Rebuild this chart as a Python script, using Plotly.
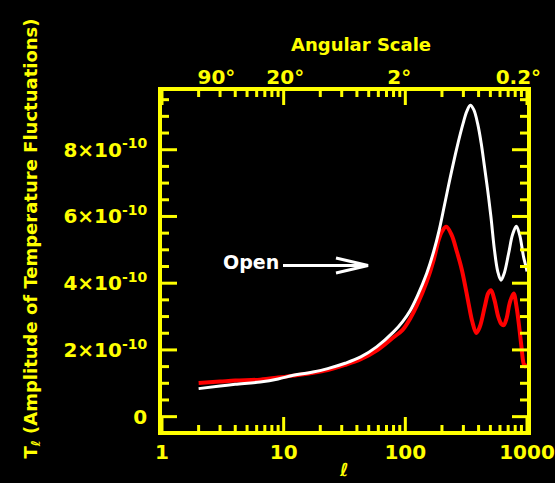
import numpy as np
import plotly.graph_objects as go

# Multipole moment l and amplitude of temperature fluctuations (units of 1e-10)
ell_flat = [2, 3, 4, 6.4, 9, 12, 17, 23, 32, 43, 58, 80, 95, 110, 125, 150, 171,
            190, 210, 235, 265, 298, 320, 342, 365, 393, 420, 445, 475, 505,
            540, 575, 611, 650, 706, 760, 817, 870, 937, 980, 1000]
amp_flat = [0.84, 0.92, 0.97, 1.04, 1.13, 1.24, 1.33, 1.44, 1.60, 1.79, 2.09,
            2.54, 2.85, 3.19, 3.60, 4.30, 4.95, 5.60, 6.35, 7.20, 8.05, 8.78,
            9.15, 9.33, 9.20, 8.78, 8.20, 7.55, 6.79, 6.00, 5.00, 4.35, 4.09,
            4.30, 4.89, 5.45, 5.71, 5.45, 4.79, 4.50, 4.35]

ell_open = [2, 3, 4, 6.4, 9, 12, 17, 23, 32, 43, 58, 80, 95, 110, 125, 150, 171,
            188, 200, 217, 240, 265, 292, 331, 355, 383, 410, 450, 480, 506,
            540, 580, 615, 643, 680, 720, 776, 820, 869, 900, 938, 965, 1000]
amp_open = [1.01, 1.05, 1.08, 1.11, 1.17, 1.23, 1.31, 1.40, 1.55, 1.72, 1.98,
            2.38, 2.60, 2.95, 3.35, 4.05, 4.70, 5.30, 5.55, 5.69, 5.45, 4.95,
            4.39, 3.39, 2.85, 2.51, 2.70, 3.30, 3.70, 3.79, 3.50, 3.00, 2.78,
            2.74, 2.95, 3.40, 3.69, 3.30, 2.59, 2.10, 1.59, 1.50, 1.58]

# Axis ticks
ell_ticks = [1, 10, 100, 1000]
ell_tick_labels = ["1", "10", "100", "1000"]
amp_ticks = [0, 2, 4, 6, 8]
amp_tick_labels = ["0", "2×10<sup>-10</sup>", "4×10<sup>-10</sup>",
                   "6×10<sup>-10</sup>", "8×10<sup>-10</sup>"]
angle_labels = ["90°", "20°", "2°", "0.2°"]
angle_ell = [2.8, 10.3, 89, 850]

SCALE = 1e-10
YEL = "#ffff00"
FONT = "DejaVu Sans"

W, H = 555, 483
L, R, T, B = 162, 527, 91, 431
X_LOG_RANGE = [0, 3]
Y_RANGE = [-0.43, 9.76]   # in units of 1e-10


def px(x):
    return (x - L) / (R - L)


def py(y):
    return (B - y) / (B - T)


fig = go.Figure()
fig.add_trace(go.Scatter(x=ell_open, y=np.array(amp_open) * SCALE, mode="lines",
                         line=dict(color="#ff0000", width=4, shape="spline"),
                         showlegend=False, hoverinfo="skip"))
fig.add_trace(go.Scatter(x=ell_flat, y=np.array(amp_flat) * SCALE, mode="lines",
                         line=dict(color="#ffffff", width=3, shape="spline"),
                         showlegend=False, hoverinfo="skip"))
# invisible trace to activate the top (angular scale) axis
fig.add_trace(go.Scatter(x=[10], y=[0], xaxis="x2", yaxis="y", mode="markers",
                         marker=dict(opacity=0), showlegend=False,
                         hoverinfo="skip"))

tickfont = dict(family=FONT, size=20, color=YEL, weight="bold")

fig.update_layout(
    width=W, height=H,
    margin=dict(l=L, r=W - R, t=T, b=H - B, pad=0, autoexpand=False),
    paper_bgcolor="black", plot_bgcolor="black",
    showlegend=False,
    xaxis=dict(type="log", range=X_LOG_RANGE, showgrid=False, zeroline=False,
               automargin=False, showline=True, linecolor=YEL, linewidth=3.5,
               mirror=True, ticks="", tickvals=ell_ticks,
               ticktext=ell_tick_labels, tickfont=tickfont,
               ticklabelstandoff=0),
    xaxis2=dict(type="log", range=X_LOG_RANGE, overlaying="x", side="top",
                anchor="y", showgrid=False, zeroline=False, showline=False,
                automargin=False, ticks="", tickvals=angle_ell,
                ticktext=angle_labels, tickfont=tickfont,
                ticklabelstandoff=2),
    yaxis=dict(range=[v * SCALE for v in Y_RANGE], showgrid=False,
               zeroline=False, showline=True, linecolor=YEL, linewidth=3.5,
               automargin=False, mirror=True, ticks="",
               tickvals=[v * SCALE for v in amp_ticks],
               ticktext=amp_tick_labels, tickfont=tickfont,
               ticklabelstandoff=7),
)

# Inward tick marks on all four sides of the frame
tick_line = dict(color=YEL, width=3)
ell_minor = [m * 10 ** d for d in range(3) for m in range(2, 10)]
amp_minor = [k * 0.5 for k in range(-1, 20) if k % 4 != 0]


def xpaper(ell):
    return (np.log10(ell) - X_LOG_RANGE[0]) / (X_LOG_RANGE[1] - X_LOG_RANGE[0])


def ypaper(v):
    return (v - Y_RANGE[0]) / (Y_RANGE[1] - Y_RANGE[0])


for vals, n_px in ((ell_ticks, 14), (ell_minor, 6)):
    h = n_px / (B - T)
    for e in vals:
        xp = xpaper(e)
        fig.add_shape(type="line", xref="paper", yref="paper",
                      x0=xp, x1=xp, y0=0, y1=h, line=tick_line)
        fig.add_shape(type="line", xref="paper", yref="paper",
                      x0=xp, x1=xp, y0=1, y1=1 - h, line=tick_line)

for vals, n_px in ((amp_ticks, 15), (amp_minor, 7)):
    w = n_px / (R - L)
    for v in vals:
        yp = ypaper(v)
        if not 0 <= yp <= 1:
            continue
        fig.add_shape(type="line", xref="paper", yref="paper",
                      x0=0, x1=w, y0=yp, y1=yp, line=tick_line)
        fig.add_shape(type="line", xref="paper", yref="paper",
                      x0=1, x1=1 - w, y0=yp, y1=yp, line=tick_line)

ann = dict(xref="paper", yref="paper", showarrow=False,
           xanchor="center", yanchor="middle")

# Titles
fig.add_annotation(text="Angular Scale", x=px(360.5), y=py(44),
                   font=dict(family=FONT, size=18, color=YEL, weight="bold"),
                   **ann)
fig.add_annotation(text="<i>ℓ</i>", x=px(344), y=py(482.5),
                   xref="paper", yref="paper", showarrow=False,
                   xanchor="center", yanchor="bottom",
                   font=dict(family=FONT, size=18, color=YEL, weight="bold"))
fig.add_annotation(text="T<sub>ℓ</sub> (Amplitude of Temperature Fluctuations)",
                   x=px(31), y=py(238.5), textangle=-90,
                   font=dict(family=FONT, size=18, color=YEL, weight="bold"),
                   **ann)

# "Open" label with arrow
fig.add_annotation(text="Open", x=px(251), y=py(262),
                   font=dict(family=FONT, size=19, color="white", weight="bold"),
                   **ann)
arrow = dict(color="white", width=3)
fig.add_shape(type="line", xref="paper", yref="paper",
              x0=px(283), y0=py(265.5), x1=px(368), y1=py(265.5), line=arrow)
fig.add_shape(type="path", xref="paper", yref="paper",
              path=(f"M {px(336)} {py(258)} L {px(368)} {py(265.5)} "
                    f"L {px(336)} {py(273)}"), line=arrow)

fig.write_html("out.html")
